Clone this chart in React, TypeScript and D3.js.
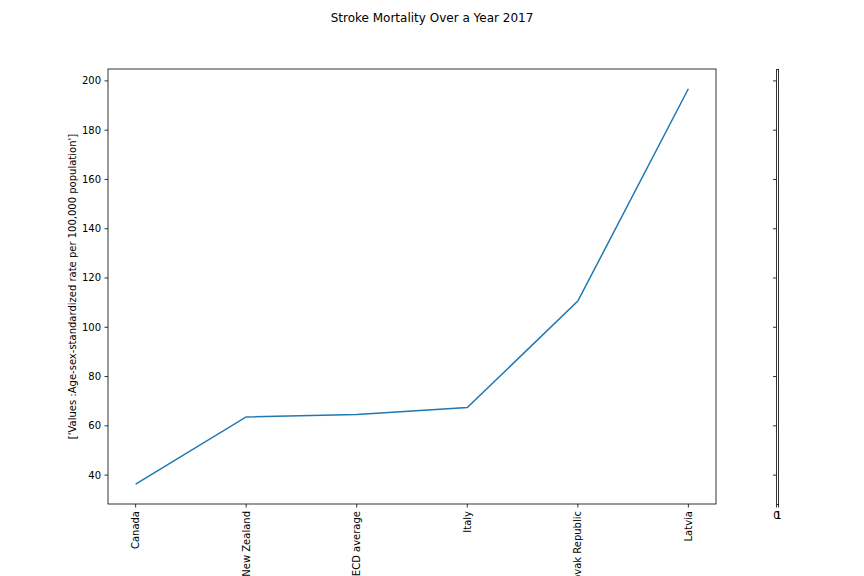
import React from "react";
import * as d3 from "d3";

const countries = ["Canada", "New Zealand", "OECD average", "Italy", "Slovak Republic", "Latvia"];
const values = [36.3, 63.6, 64.6, 67.4, 110.6, 196.8];
const yTicks = [40, 60, 80, 100, 120, 140, 160, 180, 200];
const twinXTicks = ["0", "1"];

const W = 864, H = 576;
const L = 108, R = 716, T = 69, B = 504;
const L2 = 776.5, R2 = 778.5;
const FONT = "DejaVu Sans, sans-serif";

export default function App() {
  const n = countries.length;
  const x = d3.scaleLinear().domain([-0.25, n - 1 + 0.25]).range([L, R]);
  const ymin = d3.min(values)!, ymax = d3.max(values)!;
  const pad = (ymax - ymin) * 0.05;
  const y = d3.scaleLinear().domain([ymin - pad, ymax + pad]).range([B, T]);
  const line = d3.line<number>().x((_, i) => x(i)).y(d => y(d));
  const x2 = d3.scaleLinear().domain([0, 1]).range([L2, R2]);

  return (
    <svg width={W} height={H} style={{ position: "absolute", left: 0, top: 0, background: "white" }} fontFamily={FONT}>
      <rect x={0} y={0} width={W} height={H} fill="white" />
      <text x={432} y={22} textAnchor="middle" fontSize={12} fill="black">Stroke Mortality Over a Year 2017</text>
      <path d={line(values)!} fill="none" stroke="#1f77b4" strokeWidth={1.5} />
      <rect x={L} y={T} width={R - L} height={B - T} fill="none" stroke="black" strokeWidth={0.8} />
      {yTicks.map(t => (
        <g key={t}>
          <line x1={L - 3.5} x2={L} y1={y(t)} y2={y(t)} stroke="black" strokeWidth={0.8} />
          <text x={L - 7} y={y(t)} dy="0.35em" textAnchor="end" fontSize={10}>{t}</text>
          <line x1={L2 - 3.5} x2={L2} y1={y(t)} y2={y(t)} stroke="black" strokeWidth={0.8} />
        </g>
      ))}
      {countries.map((c, i) => (
        <g key={c}>
          <line x1={x(i)} x2={x(i)} y1={B} y2={B + 3.5} stroke="black" strokeWidth={0.8} />
          <text transform={`translate(${x(i) + 3.5},${B + 7}) rotate(-90)`} textAnchor="end" fontSize={10}>{c}</text>
        </g>
      ))}
      <text transform="translate(76,286.5) rotate(-90)" textAnchor="middle" fontSize={10}>['Values :Age-sex-standardized rate per 100,000 population']</text>
      <line x1={L2} x2={L2} y1={T} y2={B} stroke="black" strokeWidth={0.8} shapeRendering="crispEdges" />
      <line x1={R2} x2={R2} y1={T} y2={B} stroke="black" strokeWidth={0.8} shapeRendering="crispEdges" />
      <line x1={L2} x2={R2} y1={T} y2={T} stroke="black" strokeWidth={0.8} shapeRendering="crispEdges" />
      <line x1={L2} x2={R2} y1={B} y2={B} stroke="black" strokeWidth={0.8} shapeRendering="crispEdges" />
      {twinXTicks.map((t, i) => (
        <g key={t}>
          <line x1={x2(i)} x2={x2(i)} y1={B} y2={B + 3.5} stroke="black" strokeWidth={0.8} />
          <text x={x2(i)} y={B + 7} dy="0.76em" textAnchor="middle" fontSize={10}>{t}</text>
        </g>
      ))}
    </svg>
  );
}
